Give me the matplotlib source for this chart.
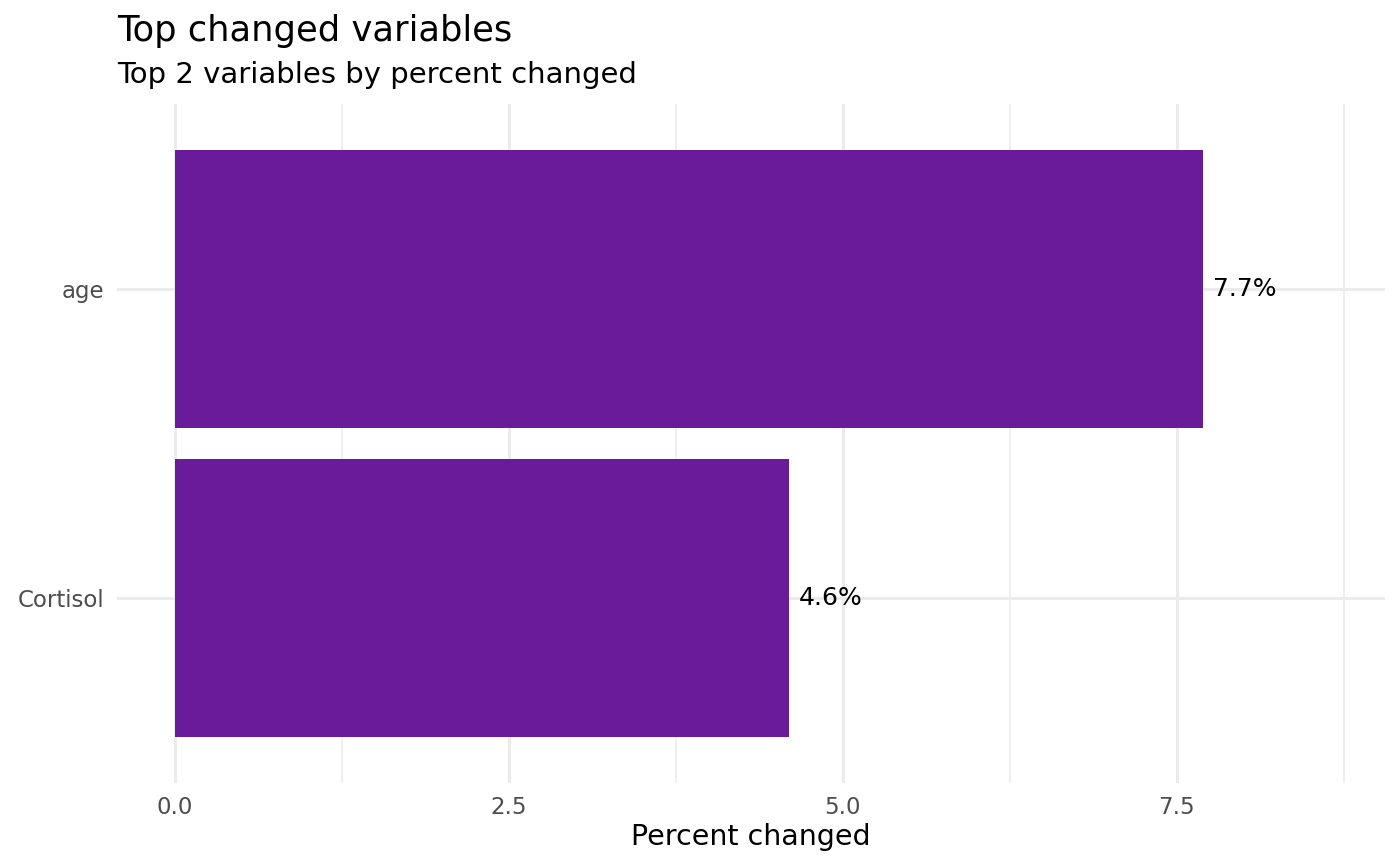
import numpy as np
import matplotlib
matplotlib.use("Agg")
from matplotlib import pyplot as plt
from matplotlib.ticker import MultipleLocator

variables = ["Cortisol", "age"]
pct_changed = [4.6, 7.7]
value_labels = ["4.6%", "7.7%"]
x_ticks = [0.0, 2.5, 5.0, 7.5]
x_tick_labels = ["0.0", "2.5", "5.0", "7.5"]

bar_color = "#6A1B9A"
grid_color = "#EBEBEB"

W, H = 1400, 866
fig = plt.figure(figsize=(W / 100, H / 100), dpi=100)
ax = fig.add_axes([117 / W, 1 - 783 / H, (1385 - 117) / W, (783 - 104) / H])

y = np.arange(1, len(variables) + 1)
ax.barh(y, pct_changed, height=0.9, color=bar_color, zorder=2)

for yi, v, lab in zip(y, pct_changed, value_labels):
    ax.annotate(lab, (v, yi), xytext=(7, 0), textcoords="offset points",
                ha="left", va="center", fontsize=18, color="black", zorder=3)

ax.set_xlim(-0.434, 9.06)
ax.set_ylim(0.4, 2.6)
ax.set_xticks(x_ticks)
ax.set_xticklabels(x_tick_labels)
ax.xaxis.set_minor_locator(MultipleLocator(1.25))
ax.set_yticks(y)
ax.set_yticklabels(variables)

ax.grid(True, which="major", color=grid_color, linewidth=2.2, zorder=0)
ax.grid(True, which="minor", axis="x", color=grid_color, linewidth=1.1, zorder=0)
ax.tick_params(which="both", length=0, labelsize=16.5, labelcolor="#4D4D4D", pad=9)
for s in ax.spines.values():
    s.set_visible(False)

fig.text(751 / W, 1 - 845 / H, "Percent changed", fontsize=20.5, color="black",
         ha="center", va="baseline")
fig.text(117 / W, 1 - 41.5 / H, "Top changed variables", fontsize=25.4, color="black",
         ha="left", va="baseline")
fig.text(117 / W, 1 - 83.3 / H, "Top 2 variables by percent changed", fontsize=21,
         color="black", ha="left", va="baseline")

fig.savefig("out.png", dpi=100)
